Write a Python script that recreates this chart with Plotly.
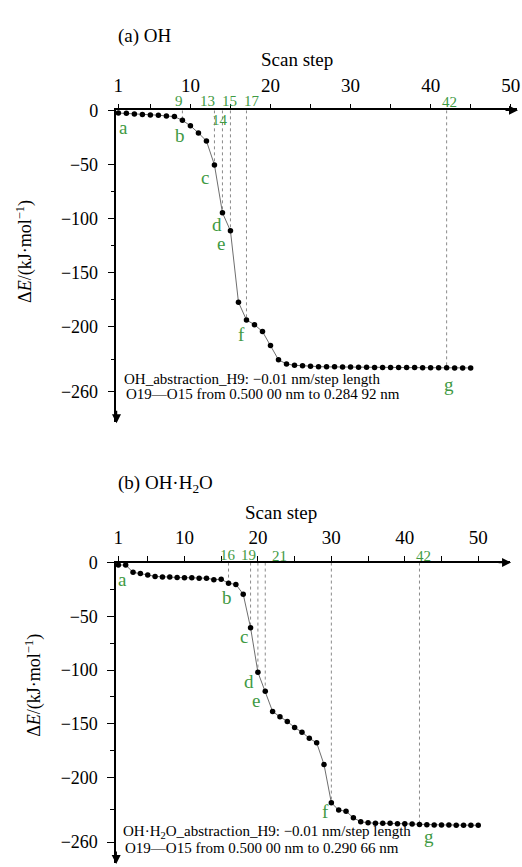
import plotly.graph_objects as go

W, H = 522, 867
FONT = "Liberation Serif, Times New Roman, serif"
GREEN = "#3f9a44"

# ---------------- data ----------------
# (a) OH
steps_a = list(range(1, 46))
dE_a = [-2.5, -2.8, -3.5, -3.8, -4.2, -4.5, -5.2, -5.8, -9.2, -14.3,
        -20.9, -28.3, -50.4, -94.6, -111.3, -177.3, -193.7, -198.0, -204.4, -217.3,
        -230.5, -234.3, -235.6, -235.9, -236.5, -236.8, -237.0, -237.0, -237.2, -237.2,
        -237.4, -237.4, -237.5, -237.5, -237.6, -237.6, -237.7, -237.7, -237.8, -237.8,
        -237.9, -237.9, -238.0, -238.0, -238.0]
marks_a = [1, 9, 13, 14, 15, 17, 42]
letters_a = ["a", "b", "c", "d", "e", "f", "g"]
dash_a = [9, 13, 14, 15, 17, 42]
numlab_a = [9, 13, 14, 15, 17, 42]
note_a = ["OH_abstraction_H9: −0.01 nm/step length",
          "O19—O15 from 0.500 00 nm to 0.284 92 nm"]

# (b) OH·H2O
steps_b = list(range(1, 51))
dE_b = [-2.3, -2.3, -9.1, -10.1, -11.5, -12.9, -13.5, -13.5, -13.9, -14.2,
        -14.2, -14.5, -14.5, -15.9, -15.5, -19.3, -20.3, -29.4, -60.6, -102.0,
        -119.7, -138.5, -143.4, -147.7, -153.4, -157.7, -163.4, -167.6, -187.8, -223.4,
        -230.2, -231.2, -237.4, -241.0, -242.0, -242.5, -242.5, -242.5, -242.8, -242.8,
        -243.0, -243.5, -243.8, -244.0, -244.0, -244.0, -244.2, -244.2, -244.3, -244.3]
marks_b = [1, 16, 19, 20, 21, 30, 42]
letters_b = ["a", "b", "c", "d", "e", "f", "g"]
dash_b = [16, 19, 20, 21, 30, 42]
numlab_b = [16, 19, 21, 42]
note_b = ["OH·H<sub>2</sub>O_abstraction_H9: −0.01 nm/step length",
          "O19—O15 from 0.500 00 nm to 0.290 66 nm"]

x_ticks = [1, 10, 20, 30, 40, 50]
x_minor = [5, 15, 25, 35, 45]
y_ticks = [0, -50, -100, -150, -200, -260]
y_ticktext = ["0", "−50", "−100", "−150", "−200", "−260"]

# ---------------- layout helpers ----------------
def px(x):
    return x / W


def py(y):
    return 1 - y / H


fig = go.Figure()
annotations = []
shapes = []

panels = [
    dict(steps=steps_a, dE=dE_a, marks=marks_a, letters=letters_a, dash=dash_a,
         numlab=numlab_a, note=note_a, title="(a) OH",
         xa="x", ya="y", xname="xaxis", yname="yaxis",
         x_left=114.8, x_right=520, step1_px=116.7, px_per_step=8.1,
         y0_px=101.5, y_bottom=417, px_per_unit=1.095,
         y_minor=[-75, -125, -175, -230],
         letter_dx=[5, -2, -9, -5, -9, -5, 2], letter_dy=[14, 15, 13, 12, 13, 15, 17],
         num_dx={9: -3, 13: -7, 14: -2, 15: -1, 17: 6, 42: 3},
         num_dy={9: 9, 13: 9, 14: -10, 15: 9, 17: 9, 42: 8},
         title_xy=(114, 26), scan_xy=(297, 50), ylab_xy=(22, 244), note_xy=(120, 373)),
    dict(steps=steps_b, dE=dE_b, marks=marks_b, letters=letters_b, dash=dash_b,
         numlab=numlab_b, note=note_b, title="(b) OH·H<sub>2</sub>O",
         xa="x2", ya="y2", xname="xaxis2", yname="yaxis2",
         x_left=114.5, x_right=513, step1_px=116.7, px_per_step=7.43,
         y0_px=559, y_bottom=863, px_per_unit=1.088,
         y_minor=[-25, -75, -125, -175, -230],
         letter_dx=[4, -2, -7, -9, -9, -6, 10], letter_dy=[14, 14, 9, 9, 9, 9, 12],
         num_dx={16: -1, 19: -2, 21: 14, 42: 4},
         num_dy={16: 8, 19: 8, 21: 7, 42: 7},
         title_xy=(114, 480), scan_xy=(281, 508), ylab_xy=(31, 683), note_xy=(119, 832)),
]

layout_axes = {}
for p in panels:
    steps, dE = p["steps"], p["dE"]
    xr0 = 1 + (p["x_left"] - p["step1_px"]) / p["px_per_step"]
    xr1 = 1 + (p["x_right"] - p["step1_px"]) / p["px_per_step"]
    yr0 = -(p["y_bottom"] - p["y0_px"]) / p["px_per_unit"]

    fig.add_trace(go.Scatter(
        x=steps, y=dE, mode="lines+markers", xaxis=p["xa"], yaxis=p["ya"],
        line=dict(color="#6e6e6e", width=1),
        marker=dict(color="black", size=5.5),
        cliponaxis=False, showlegend=False, hoverinfo="skip"))

    layout_axes[p["xname"]] = dict(
        domain=[px(p["x_left"]), px(p["x_right"])], range=[xr0, xr1],
        side="top", anchor=p["ya"], showline=True, linecolor="black", linewidth=1.5,
        showgrid=False, zeroline=False, tickmode="array", tickvals=x_ticks,
        ticktext=[str(v) for v in x_ticks], ticks="outside", ticklen=5, tickwidth=1.2,
        tickcolor="black", tickfont=dict(family=FONT, size=19, color="black"),
        ticklabelstandoff=4, ticklabeloverflow="allow",
        minor=dict(tickvals=x_minor, ticks="outside", ticklen=5, tickwidth=1.2,
                   tickcolor="black"))
    layout_axes[p["yname"]] = dict(
        domain=[py(p["y_bottom"]), py(p["y0_px"])], range=[yr0, 0],
        anchor=p["xa"], showline=True, linecolor="black", linewidth=1.5,
        showgrid=False, zeroline=False, tickmode="array", tickvals=y_ticks,
        ticktext=y_ticktext, ticks="outside", ticklen=7, tickwidth=1.2,
        tickcolor="black", tickfont=dict(family=FONT, size=18, color="black"),
        ticklabelstandoff=6,
        minor=dict(tickvals=p["y_minor"], ticks="outside", ticklen=4, tickwidth=1.2,
                   tickcolor="black"))

    val = dict(zip(steps, dE))

    # dotted guide lines from the axis to the marked points
    for s in p["dash"]:
        shapes.append(dict(type="line", xref=p["xa"], yref=p["ya"], x0=s, x1=s,
                           y0=0, y1=val[s], line=dict(color="#8a8a8a", width=1, dash="dot"),
                           layer="below"))

    # green step numbers
    for s in p["numlab"]:
        annotations.append(dict(x=s, y=0, xref=p["xa"], yref=p["ya"], text=str(s),
                                showarrow=False, xshift=p["num_dx"][s], yshift=p["num_dy"][s],
                                font=dict(family=FONT, size=15, color=GREEN)))

    # green point letters
    for s, letter, dx, dy in zip(p["marks"], p["letters"], p["letter_dx"], p["letter_dy"]):
        annotations.append(dict(x=s, y=val[s], xref=p["xa"], yref=p["ya"], text=letter,
                                showarrow=False, xshift=dx, yshift=-dy,
                                font=dict(family=FONT, size=19, color=GREEN)))

    # panel title
    tx, ty = p["title_xy"]
    annotations.append(dict(x=px(tx), y=py(ty), xref="paper", yref="paper", text=p["title"],
                            showarrow=False, xanchor="left", yanchor="middle",
                            font=dict(family=FONT, size=19, color="black")))
    # x title
    sx, sy = p["scan_xy"]
    annotations.append(dict(x=px(sx), y=py(sy), xref="paper", yref="paper", text="Scan step",
                            showarrow=False, xanchor="center", yanchor="middle",
                            font=dict(family=FONT, size=19, color="black")))
    # y title
    lx, ly = p["ylab_xy"]
    annotations.append(dict(x=px(lx), y=py(ly), xref="paper", yref="paper",
                            text="Δ<i>E</i>/(kJ·mol<sup>−1</sup>)", textangle=-90,
                            showarrow=False, xanchor="center", yanchor="middle",
                            font=dict(family=FONT, size=18, color="black")))
    # note text
    nx, ny = p["note_xy"]
    for i, line in enumerate(p["note"]):
        annotations.append(dict(x=px(nx + (2 if i else 0)), y=py(ny + 15.5 * i),
                                xref="paper", yref="paper", text=line, showarrow=False,
                                xanchor="left", yanchor="middle",
                                font=dict(family=FONT, size=15, color="black")))

    # arrow heads on both axes
    annotations.append(dict(x=px(p["x_right"] + 1), y=py(p["y0_px"]), xref="paper", yref="paper",
                            ax=-14, ay=0, text="", showarrow=True, arrowhead=2, arrowsize=1.2,
                            arrowwidth=1.5, arrowcolor="black"))
    annotations.append(dict(x=px(p["x_left"]), y=py(p["y_bottom"] + 1), xref="paper", yref="paper",
                            ax=0, ay=-14, text="", showarrow=True, arrowhead=2, arrowsize=1.2,
                            arrowwidth=1.5, arrowcolor="black"))

fig.update_layout(
    width=W, height=H, margin=dict(l=0, r=0, t=0, b=0),
    paper_bgcolor="white", plot_bgcolor="white",
    font=dict(family=FONT, color="black"),
    annotations=annotations, shapes=shapes, showlegend=False,
    **layout_axes)

fig.write_html("out.html", config={"displayModeBar": False},
               post_script="document.body.style.margin='0px';")
